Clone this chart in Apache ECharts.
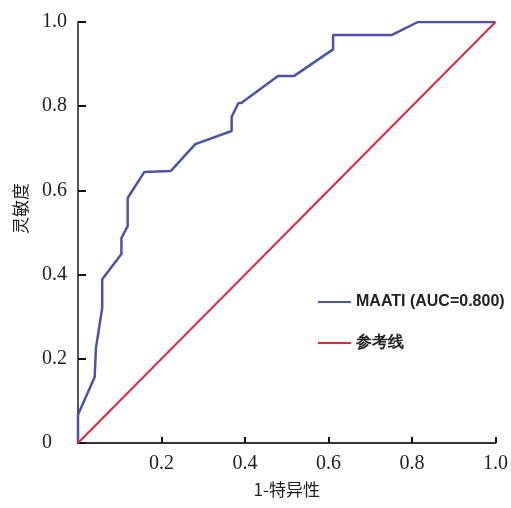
<!DOCTYPE html>
<html>
<head>
<meta charset="utf-8">
<script src="https://cdn.jsdelivr.net/npm/echarts@6/dist/echarts.min.js"></script>
<style>html,body{margin:0;padding:0;background:#fff;}#c{width:511px;height:508px;}</style>
</head>
<body>
<div id="c"></div>
<script>
// ROC curve points (1-specificity, sensitivity)
const rocX = [0, 0, 0.040, 0.043, 0.058, 0.058, 0.104, 0.104, 0.119, 0.119, 0.159, 0.222, 0.281, 0.368, 0.368, 0.384, 0.392, 0.479, 0.518, 0.611, 0.611, 0.751, 0.814, 1.0];
const rocY = [0, 0.067, 0.157, 0.226, 0.321, 0.389, 0.449, 0.487, 0.515, 0.582, 0.644, 0.646, 0.710, 0.741, 0.775, 0.807, 0.808, 0.872, 0.872, 0.935, 0.969, 0.969, 1.0, 1.0];
const refX = [0, 1];
const refY = [0, 1];
const seriesNames = ['MAATI (AUC=0.800)', '参考线'];
const xTitle = '1-特异性';
const yTitle = '灵敏度';

const chart = echarts.init(document.getElementById('c'));
const fmt = v => v === 0 ? '0' : v.toFixed(1);
chart.setOption({
  backgroundColor: '#ffffff',
  animation: false,
  grid: {left: 78, right: 11, top: 22, bottom: 65},
  xAxis: {
    type: 'value', min: 0, max: 1, interval: 0.2,
    name: xTitle, nameLocation: 'middle', nameGap: 38,
    nameTextStyle: {fontFamily: 'Noto Sans CJK SC', fontSize: 17, color: '#222'},
    axisLine: {show: true, lineStyle: {color: '#333', width: 2}},
    axisTick: {show: true, inside: true, length: 6, lineStyle: {color: '#111', width: 2}},
    axisLabel: {formatter: v => v === 0 ? '' : fmt(v), fontFamily: 'Liberation Serif', fontSize: 20, color: '#222', margin: 11},
    splitLine: {show: false}
  },
  yAxis: {
    type: 'value', min: 0, max: 1, interval: 0.2,
    axisLine: {show: true, lineStyle: {color: '#555', width: 2}},
    axisTick: {show: true, inside: true, length: 8, lineStyle: {color: '#111', width: 2}},
    axisLabel: {formatter: fmt, fontFamily: 'Liberation Serif', fontSize: 20, color: '#222', align: 'left', margin: 36},
    splitLine: {show: false}
  },
  graphic: [{
    type: 'text', left: 12, top: 183, rotation: Math.PI / 2,
    style: {text: yTitle, fontFamily: 'Noto Sans CJK SC', fontSize: 17, fill: '#222'}
  }],
  legend: {
    orient: 'vertical', left: 312, top: 289, itemWidth: 33, itemHeight: 14, itemGap: 25,
    itemStyle: {opacity: 0},
    textStyle: {fontFamily: 'Liberation Sans', fontSize: 16, fontWeight: 'bold', color: '#222'},
    data: seriesNames
  },
  series: [
    {name: seriesNames[0], type: 'line', symbol: 'none', data: rocX.map((x, i) => [x, rocY[i]]),
     lineStyle: {color: '#4a53a8', width: 2.5}, itemStyle: {color: '#4a53a8'}},
    {name: seriesNames[1], type: 'line', symbol: 'none', data: refX.map((x, i) => [x, refY[i]]),
     lineStyle: {color: '#e0283a', width: 2}, itemStyle: {color: '#e0283a'}}
  ]
});
</script>
</body>
</html>
